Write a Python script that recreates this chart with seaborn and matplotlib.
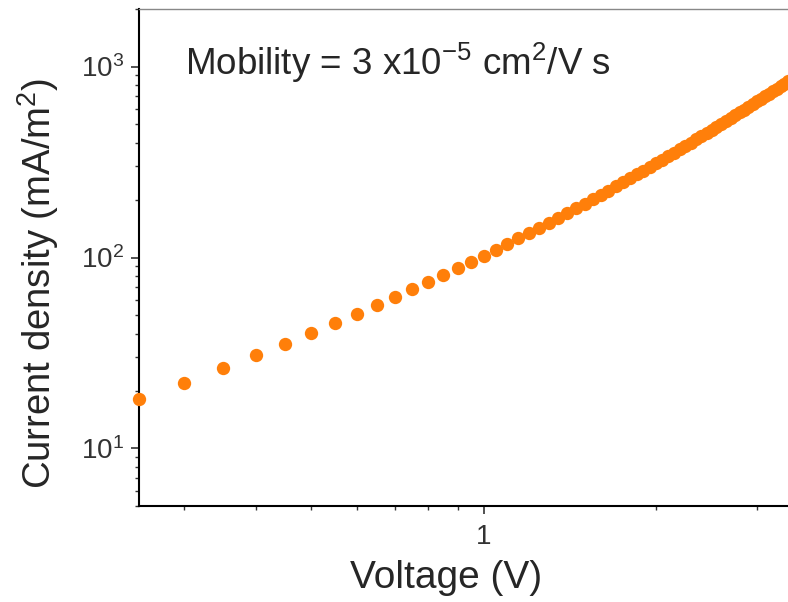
import matplotlib
matplotlib.use("Agg")
import matplotlib.pyplot as plt
import matplotlib.ticker as mticker
import seaborn as sns

# voltage steps and current density
voltage = [0.25, 0.30, 0.35, 0.40, 0.45, 0.50, 0.55, 0.60, 0.65, 0.70,
           0.75, 0.80, 0.85, 0.90, 0.95, 1.00, 1.05, 1.10, 1.15, 1.20,
           1.25, 1.30, 1.35, 1.40, 1.45, 1.50, 1.55, 1.60, 1.65, 1.70,
           1.75, 1.80, 1.85, 1.90, 1.95, 2.00, 2.05, 2.10, 2.15, 2.20,
           2.25, 2.30, 2.35, 2.40, 2.45, 2.50, 2.55, 2.60, 2.65, 2.70,
           2.75, 2.80, 2.85, 2.90, 2.95, 3.00, 3.05, 3.10, 3.15, 3.20,
           3.25, 3.30, 3.35, 3.40]
current = [18.2, 22.0, 26.5, 30.8, 35.4, 40.3, 45.6, 50.7, 56.5, 62.0,
           68.3, 74.6, 81.2, 87.6, 95.0, 102.0, 109.7, 117.6, 125.8, 134.3,
           143.1, 152.1, 161.5, 171.2, 181.2, 191.5, 202.1, 213.0, 224.2, 235.8,
           247.6, 259.8, 272.3, 285.2, 298.3, 311.8, 325.7, 339.8, 354.4, 369.2,
           384.5, 400.0, 416.0, 432.3, 448.9, 466.0, 483.3, 501.1, 519.2, 537.7,
           556.6, 575.9, 595.5, 615.6, 636.1, 656.9, 678.1, 699.7, 721.7, 744.2,
           767.0, 790.3, 813.9, 838.0]

annotation = r"Mobility = 3 x10$^{-5}$ cm$^{2}$/V s"

sns.set_style("ticks")
plt.rcParams["font.family"] = ["Liberation Sans", "DejaVu Sans"]
plt.rcParams["mathtext.fontset"] = "custom"
plt.rcParams["mathtext.rm"] = "Liberation Sans"
plt.rcParams["mathtext.it"] = "Liberation Sans:italic"
plt.rcParams["mathtext.bf"] = "Liberation Sans:bold"

fig = plt.figure(figsize=(7.88, 6.02), dpi=100)
ax = fig.add_axes([0.1764, 0.1595, 0.8236, 0.8255])

sns.scatterplot(x=voltage, y=current, ax=ax, s=92, color="#ff7f0a",
                linewidth=0, clip_on=False, zorder=3)

ax.set_xscale("log")
ax.set_yscale("log")
ax.set_xlim(0.25, 3.4)
ax.set_ylim(5, 2000)

ax.xaxis.set_major_locator(mticker.FixedLocator([1]))
ax.xaxis.set_major_formatter(mticker.FixedFormatter(["1"]))
ax.xaxis.set_minor_locator(mticker.FixedLocator([0.3, 0.4, 0.5, 0.6, 0.7, 0.8, 0.9, 2, 3]))
ax.xaxis.set_minor_formatter(mticker.NullFormatter())
ax.yaxis.set_minor_formatter(mticker.NullFormatter())

ax.tick_params(which="major", direction="out", length=6, width=1.2,
               labelsize=20, labelcolor="#333333", color="#333333", pad=5)
ax.tick_params(which="minor", direction="out", length=3, width=1.0, color="#333333")
ax.tick_params(axis="x", which="major", pad=7)

for side in ["left", "bottom"]:
    ax.spines[side].set_linewidth(1.5)
    ax.spines[side].set_color("black")
ax.spines["top"].set_color("#888888")
ax.spines["top"].set_linewidth(1.0)
ax.spines["right"].set_visible(False)

ax.set_xlabel("Voltage (V)", fontsize=28)
ax.set_ylabel("Current density (mA/m$^{2}$)", fontsize=27.5)
ax.xaxis.set_label_coords(0.473, -0.108)
ax.yaxis.set_label_coords(-0.12, 0.447)

ax.text(0.071, 0.867, annotation, transform=ax.transAxes, fontsize=26.5,
        va="baseline", ha="left")

fig.savefig("out.png", dpi=100)
